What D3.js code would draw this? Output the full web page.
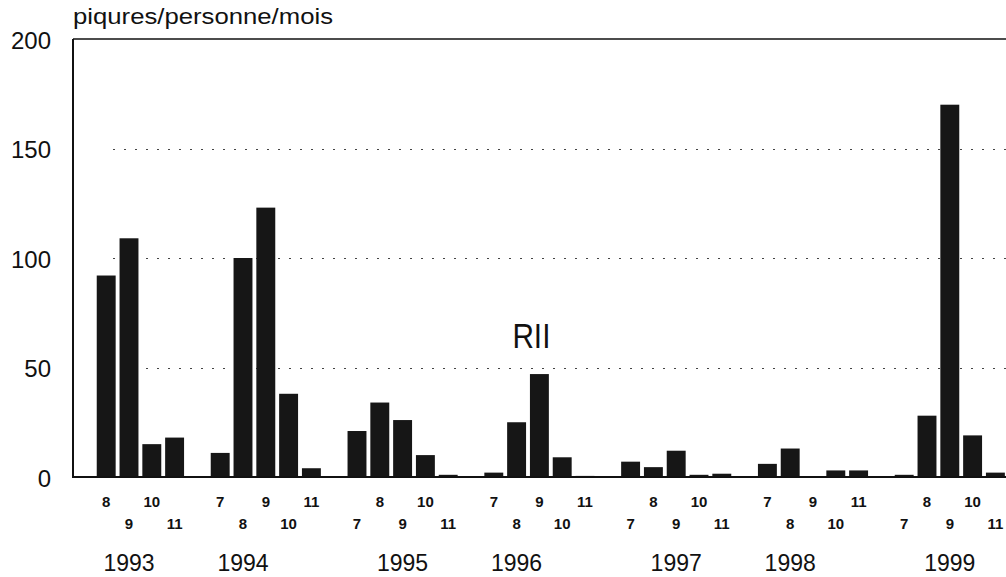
<!DOCTYPE html>
<html>
<head>
<meta charset="utf-8">
<script src="https://d3js.org/d3.v7.min.js"></script>
<style>
  html, body { margin: 0; padding: 0; background: #fff; }
  svg { display: block; font-family: "Liberation Sans", Arial, sans-serif; }
</style>
</head>
<body>
<svg id="chart" width="1006" height="577"></svg>
<script>
// Monthly bites per person, July–November, 1993–1999
const years = [1993, 1994, 1995, 1996, 1997, 1998, 1999];
const months = [7, 8, 9, 10, 11];
const v1993 = [null, 92, 109, 15, 18];
const v1994 = [11, 100, 123, 38, 4];
const v1995 = [21, 34, 26, 10, 1];
const v1996 = [2, 25, 47, 9, 0.5];
const v1997 = [7, 4.5, 12, 1, 1.5];
const v1998 = [6, 13, 0, 3, 3];
const v1999 = [1, 28, 170, 19, 2];
const seriesByYear = [v1993, v1994, v1995, v1996, v1997, v1998, v1999];
const yTicks = [0, 50, 100, 150, 200];
const gridValues = [50, 100, 150];
const yTitle = "piqures/personne/mois";
const annotation = "RII";

const W = 1006, H = 577;
const plotLeft = 73, plotTop = 39, plotBottom = 477, plotRight = W;

// one slot per month, plus an empty slot closing each season
const slots = [];
years.forEach(yr => { months.forEach(m => slots.push(`${yr}-${m}`)); slots.push(`${yr}-gap`); });

// only months that were sampled
const rows = [];
years.forEach((yr, i) => months.forEach((m, j) => {
  if (seriesByYear[i][j] !== null) rows.push({ year: yr, month: m, value: seriesByYear[i][j] });
}));

const x = d3.scaleBand().domain(slots).range([72, 72 + slots.length * 22.8]).paddingInner(0.17).paddingOuter(0.085);
const y = d3.scaleLinear().domain([0, 200]).range([plotBottom, plotTop]);

const svg = d3.select("#chart");

svg.append("defs").append("clipPath").attr("id", "plot")
  .append("rect").attr("x", plotLeft).attr("y", 0).attr("width", plotRight - plotLeft).attr("height", H);

// dotted reference lines
svg.append("g").selectAll("line").data(gridValues).join("line")
  .attr("x1", plotLeft + 40).attr("x2", plotRight)
  .attr("y1", d => Math.round(y(d)) + 0.5).attr("y2", d => Math.round(y(d)) + 0.5)
  .attr("stroke", "#444").attr("stroke-width", 1.2).attr("stroke-dasharray", "2,9");

// bars
svg.append("g").attr("clip-path", "url(#plot)")
  .selectAll("rect").data(rows).join("rect")
  .attr("x", d => x(`${d.year}-${d.month}`))
  .attr("width", x.bandwidth())
  .attr("y", d => y(d.value))
  .attr("height", d => y(0) - y(d.value))
  .attr("fill", "#161616");

// frame: left axis, top rule, baseline
const frame = svg.append("g").attr("stroke", "#111").attr("fill", "none");
frame.append("line").attr("x1", plotLeft).attr("x2", plotLeft).attr("y1", plotTop).attr("y2", plotBottom + 1).attr("stroke-width", 2);
frame.append("line").attr("x1", plotLeft).attr("x2", plotRight).attr("y1", plotTop).attr("y2", plotTop).attr("stroke-width", 1.5);
frame.append("line").attr("x1", plotLeft).attr("x2", plotRight).attr("y1", plotBottom).attr("y2", plotBottom).attr("stroke-width", 2);

// y tick labels
svg.append("g").selectAll("text").data(yTicks).join("text")
  .attr("x", 51).attr("y", d => y(d) + 1)
  .attr("text-anchor", "end").attr("dominant-baseline", "central")
  .attr("font-size", 24).attr("fill", "#111")
  .text(d => d);

// axis title
svg.append("text").attr("x", 73).attr("y", 24)
  .attr("font-size", 22).attr("fill", "#111")
  .attr("textLength", 260).attr("lengthAdjust", "spacingAndGlyphs")
  .text(yTitle);

// month labels, alternating between two rows
svg.append("g").selectAll("text").data(rows).join("text")
  .attr("x", d => x(`${d.year}-${d.month}`) + x.bandwidth() / 2)
  .attr("y", (d, i) => i % 2 === 0 ? 507 : 529)
  .attr("text-anchor", "middle")
  .attr("font-size", 15).attr("font-weight", "bold").attr("fill", "#111")
  .text(d => d.month);

// year labels
svg.append("g").selectAll("text").data(years).join("text")
  .attr("x", (d, i) => x(`${d}-${i % 2 === 0 ? 9 : 8}`) + x.bandwidth() / 2)
  .attr("y", 571)
  .attr("text-anchor", "middle")
  .attr("font-size", 23).attr("fill", "#111")
  .text(d => d);

// annotation
svg.append("text")
  .attr("transform", `translate(${x("1996-9") + x.bandwidth() / 2 - 8},348) scale(0.85,1)`)
  .attr("text-anchor", "middle")
  .attr("font-size", 35).attr("fill", "#111")
  .text(annotation);
</script>
</body>
</html>
